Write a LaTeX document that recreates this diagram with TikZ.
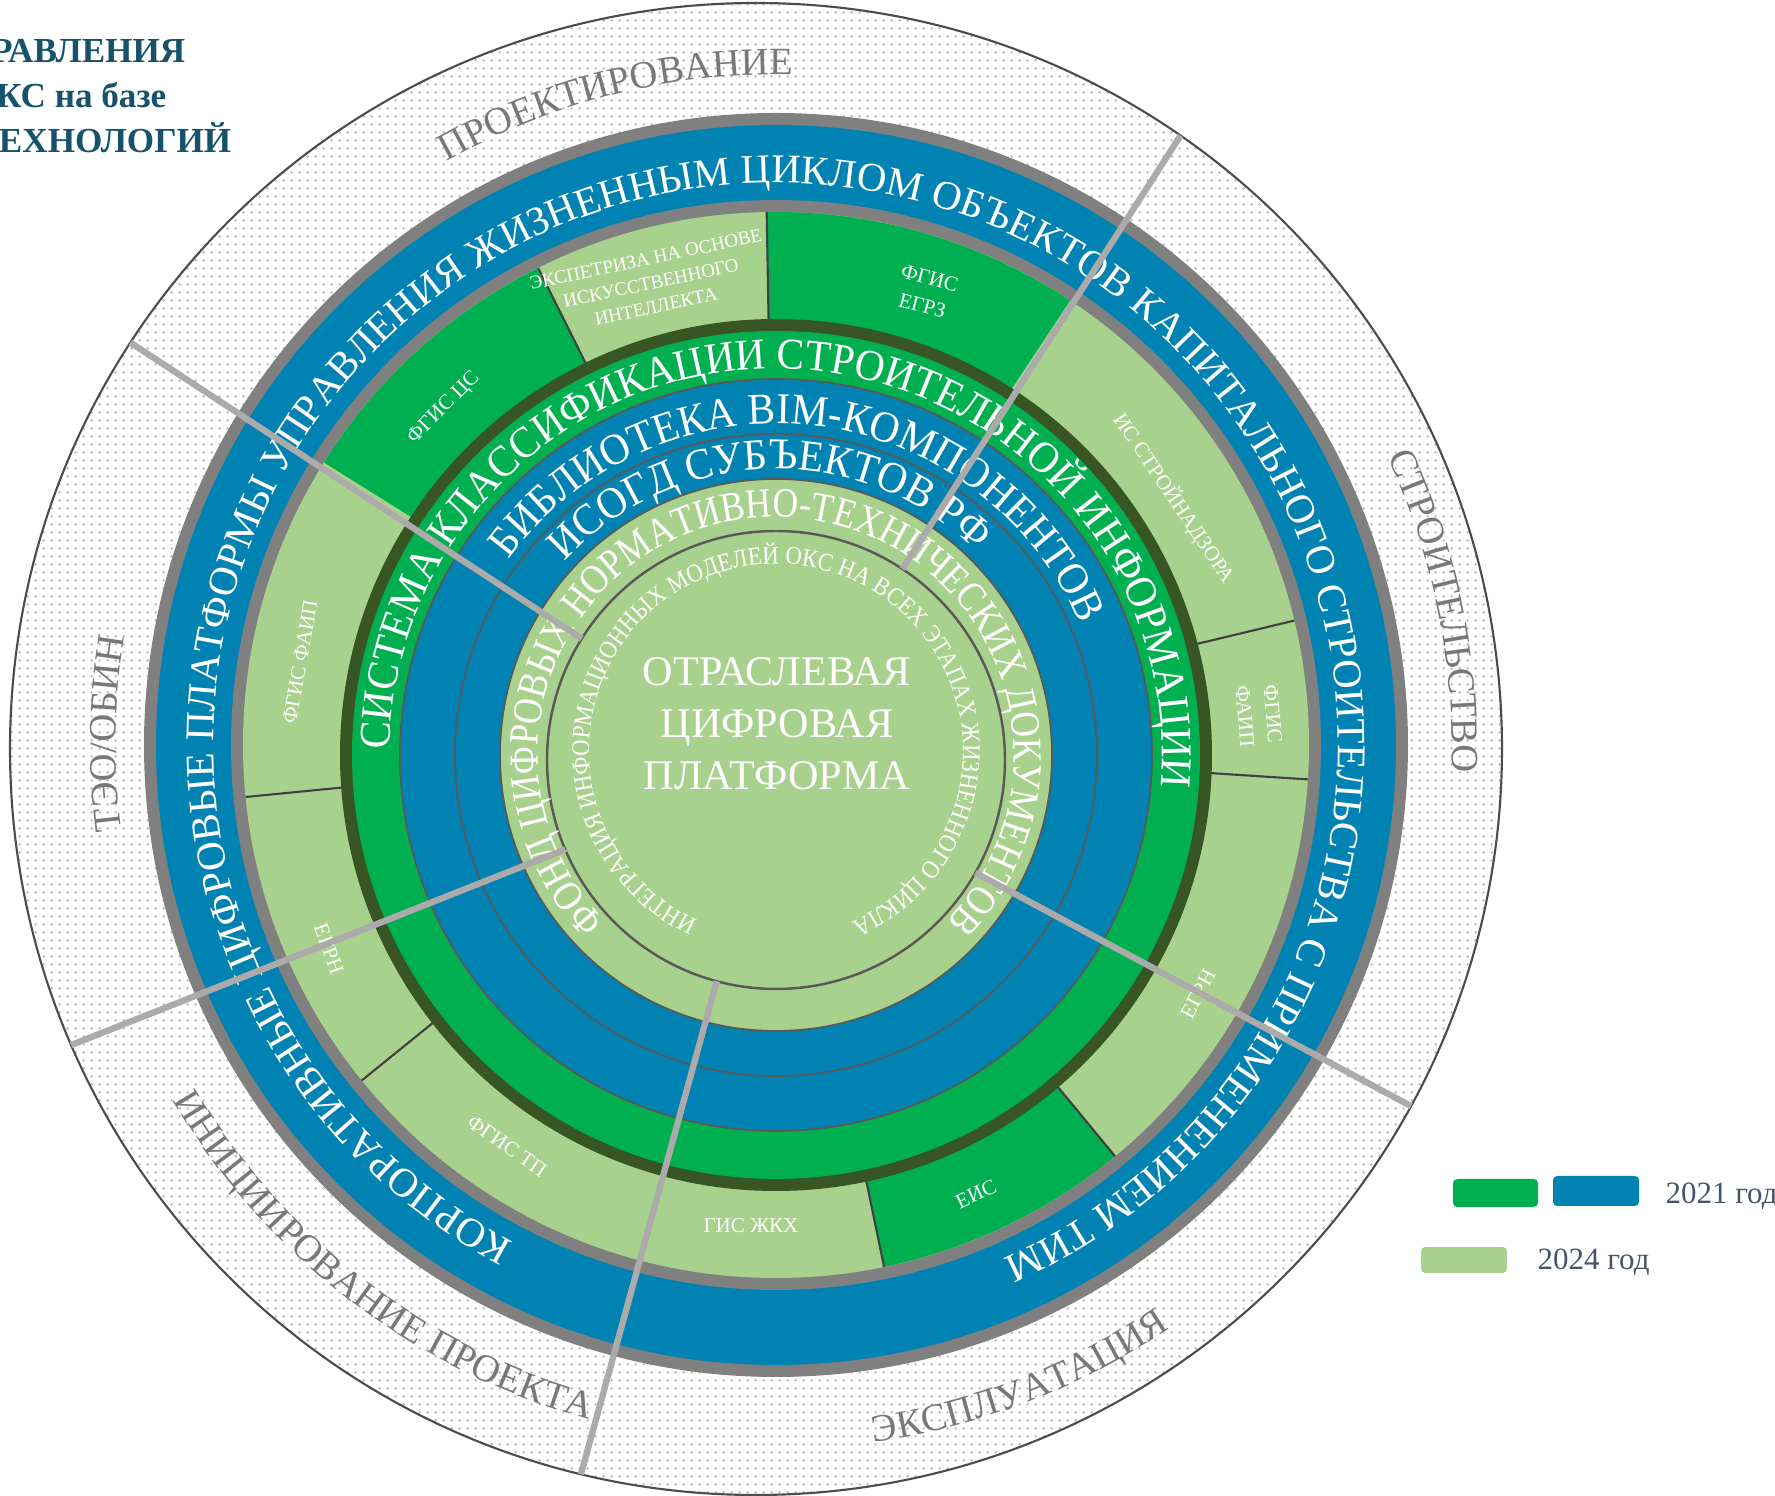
\documentclass[tikz,border=0pt]{standalone}
\usepackage{fontspec}
\setmainfont{Liberation Serif}
\newfontfamily\ringfont[FakeStretch=0.94]{Liberation Serif}
\newfontfamily\narrowfont[FakeStretch=0.86]{Liberation Serif}
\newfontfamily\smallringfont[FakeStretch=0.9]{Liberation Serif}
\usetikzlibrary{calc,decorations.text,patterns.meta}

\definecolor{platgreen}{RGB}{0,176,80}
\definecolor{palegreen}{RGB}{169,209,142}
\definecolor{platblue}{RGB}{0,130,178}
\definecolor{darkband}{RGB}{55,86,35}
\definecolor{ringgray}{RGB}{128,128,128}
\definecolor{divgray}{RGB}{172,170,170}
\definecolor{phasegray}{RGB}{120,120,120}
\definecolor{dotgray}{RGB}{185,185,185}
\definecolor{titleblue}{RGB}{22,82,107}
\definecolor{slate}{RGB}{68,84,106}

\tikzdeclarepattern{
  name=finedots,
  type=uncolored,
  bottom left={(0pt,0pt)},
  top right={(2.3pt,2.3pt)},
  tile size={(2.3pt,2.3pt)},
  code={\pgfpathcircle{\pgfpoint{1.15pt}{1.15pt}}{0.42pt}\pgfusepath{fill}}
}

% curved label: centre, radius, start, end, colour, font, text
\newcommand{\ringtext}[7]{%
  \path[decorate,decoration={text along path,text align=center,
      text color=#5,text={|#6|#7}}]
    ($(#1)+(#3:#2)$) arc[start angle=#3,end angle=#4,radius=#2];}

\begin{document}
\begin{tikzpicture}[x=0.1mm,y=0.1mm,
  segline/.style={draw=black!75,line width=0.6pt},
  ringline/.style={draw=black!65,line width=0.5pt},
  divider/.style={draw=divgray,line width=1.8pt},
  seglabel/.style={text=white,font=\fontsize{6}{8}\selectfont,align=center,inner sep=0pt},
  keybox/.style={rounded corners=1.2pt,inner sep=0pt},
  keytext/.style={text=slate,font=\fontsize{8.8}{10}\selectfont,inner sep=0pt},
  titleline/.style={text=titleblue,font=\bfseries\fontsize{10}{12}\selectfont,inner sep=0pt,anchor=base east}]
\useasboundingbox (0,0) rectangle (1775,1496);
\coordinate (O) at (756,747);   % outer phase circle
\coordinate (C) at (776,751);   % blue ring and systems ring
\coordinate (Ci) at (776,741);  % inner bands
\coordinate (Cc) at (776,736);  % core circle
\coordinate (Ct) at (776,745);  % core ring text

% outer dotted ring
\fill[white] (O) circle[radius=746];
\fill[pattern=finedots,pattern color=dotgray] (O) circle[radius=746];
\draw[black!70,line width=0.6pt] (O) circle[radius=746];

% blue ring between grey rims
\fill[ringgray] (C) circle[radius=632];
\fill[platblue] (C) circle[radius=620];
\fill[ringgray] (C) circle[radius=545];

% systems ring
\fill[palegreen] (C) circle[radius=533];
\foreach \a/\b in {116.5/148,56.5/91,-78.3/-50.5}
  \fill[platgreen] (C) -- ($(C)+(\a:533)$) arc[start angle=\a,end angle=\b,radius=533] -- cycle;
\foreach \a in {116.5,91,13.5,-3.7,-50.5,-78.3,-141,-174.4}
  \draw[segline] ($(C)+(\a:400)$) -- ($(C)+(\a:533)$);

% inner bands
\fill[darkband] (Ci) circle[radius=436];
\fill[platgreen] (Ci) circle[radius=424];
\filldraw[fill=platblue,ringline] (Ci) circle[radius=376];
\draw[ringline] (Ci) circle[radius=321];
\filldraw[fill=palegreen,ringline] (Ci) circle[radius=276];
\draw[ringline,line width=0.7pt] (Cc) circle[radius=229];

% ring texts
\ringtext{C}{562}{250}{-74}{white}{\fontsize{11.6}{14}\selectfont}{КОРПОРАТИВНЫЕ ЦИФРОВЫЕ ПЛАТФОРМЫ УПРАВЛЕНИЯ ЖИЗНЕННЫМ ЦИКЛОМ ОБЪЕКТОВ КАПИТАЛЬНОГО СТРОИТЕЛЬСТВА С ПРИМЕНЕНИЕМ ТИМ}
\ringtext{Ci}{386}{194}{-19.6}{white}{\ringfont\fontsize{12.5}{14}\selectfont}{СИСТЕМА КЛАССИФИКАЦИИ СТРОИТЕЛЬНОЙ ИНФОРМАЦИИ}
\ringtext{Ci}{331}{155}{12}{white}{\ringfont\fontsize{12.5}{14}\selectfont}{БИБЛИОТЕКА BIM-КОМПОНЕНТОВ}
\ringtext{Ci}{286}{150}{33}{white}{\ringfont\fontsize{12.5}{14}\selectfont}{ИСОГД СУБЪЕКТОВ РФ}
\ringtext{Ci}{238}{230}{-50}{white}{\narrowfont\fontsize{11.8}{14}\selectfont}{ФОНД ЦИФРОВЫХ НОРМАТИВНО-ТЕХНИЧЕСКИХ ДОКУМЕНТОВ}
\ringtext{Ct}{187}{258}{-79}{white}{\smallringfont\fontsize{7.2}{9}\selectfont}{ИНТЕГРАЦИЯ ИНФОРМАЦИОННЫХ МОДЕЛЕЙ ОКС НА ВСЕХ ЭТАПАХ ЖИЗНЕННОГО ЦИКЛА}

% phase texts
\ringtext{C}{670}{130}{78}{phasegray}{\fontsize{11}{13}\selectfont}{ПРОЕКТИРОВАНИЕ}
\ringtext{C}{676}{37}{-14}{phasegray}{\fontsize{11}{13}\selectfont}{СТРОИТЕЛЬСТВО}
\ringtext{C}{704}{-95}{-43}{phasegray}{\fontsize{11}{13}\selectfont}{ЭКСПЛУАТАЦИЯ}
\ringtext{C}{700}{200}{265}{phasegray}{\fontsize{11}{13}\selectfont}{ИНИЦИИРОВАНИЕ ПРОЕКТА}
\ringtext{C}{660}{194}{164}{phasegray}{\fontsize{11}{13}\selectfont}{ТЭО/ОБИН}

% systems labels
\node[seglabel,rotate=45] (cs) at (444,1088) {ФГИС ЦС};
\node[seglabel,rotate=12,font=\fontsize{5.4}{6.9}\selectfont] (ai) at (651,1213) {ЭКСПЕТРИЗА НА ОСНОВЕ\\ИСКУССТВЕННОГО\\ИНТЕЛЛЕКТА};
\node[seglabel,rotate=-15,font=\fontsize{6}{8}\selectfont] (egrz) at (926,1204) {ФГИС\\ЕГРЗ};
\node[seglabel,rotate=-56] (nadzor) at (1174,998) {ИС СТРОЙНАДЗОРА};
\node[seglabel,rotate=-85] (faipr) at (1259,781) {ФГИС\\ФАИП};
\node[seglabel,rotate=62] (egrnr) at (1198,502) {ЕГРН};
\node[seglabel,rotate=25] (eis) at (976,302) {ЕИС};
\node[seglabel] (gis) at (751,270) {ГИС ЖКХ};
\node[seglabel,rotate=-35] (tp) at (507,350) {ФГИС ТП};
\node[seglabel,rotate=-70] (egrnl) at (329,547) {ЕГРН};
\node[seglabel,rotate=80] (faipl) at (300,834) {ФГИС ФАИП};

% centre
\node[text=white,align=center,inner sep=0pt,font=\fontsize{12}{14.8}\selectfont] (core) at (777,772) {ОТРАСЛЕВАЯ\\ЦИФРОВАЯ\\ПЛАТФОРМА};

% phase dividers
\begin{scope}
  \clip (O) circle[radius=746];
  \foreach \a in {56.5,148,203,255,-29.5}
    \draw[divider] ($(Cc)+(\a:229)$) -- ($(C)+(\a:800)$);
\end{scope}

% title
\node[titleline] (t1) at (186,1433) {РАВЛЕНИЯ};
\node[titleline] (t2) at (167,1388) {КС на базе};
\node[titleline] (t3) at (232,1343) {ЕХНОЛОГИЙ};

% legend
\fill[platgreen,keybox] (1453,289) rectangle (1538,317);
\fill[platblue,keybox] (1553,290) rectangle (1639,320);
\fill[palegreen,keybox] (1421,223) rectangle (1507,249);
\node[keytext,anchor=base west] (y21) at (1665,292) {2021 год};
\node[keytext,anchor=base west] (y24) at (1537,226) {2024 год};
\end{tikzpicture}
\end{document}
